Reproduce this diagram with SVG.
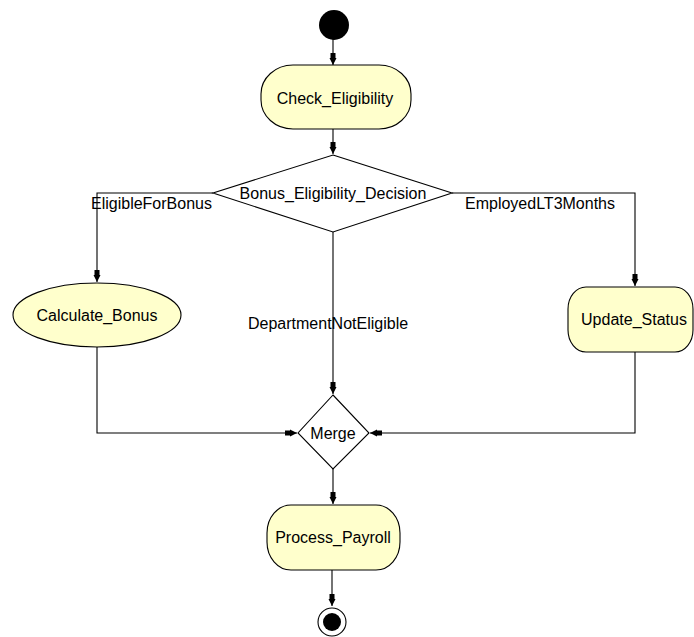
<svg xmlns="http://www.w3.org/2000/svg" width="694" height="637" viewBox="0 0 694 637">
<defs>
<marker id="arr" markerUnits="userSpaceOnUse" viewBox="0 0 12 8" refX="12" refY="4" markerWidth="12" markerHeight="8" orient="auto">
<path d="M0,1.5 L5,1.5 L5,0.5 L12,4 L5,7.5 L5,6.5 L0,6.5 Z" fill="#000"/>
</marker>
</defs>
<style>
.act{fill:#FFFFCC;stroke:#000;stroke-width:1.1}
.dec{fill:#fff;stroke:#000;stroke-width:1.1}
.lbl{font-family:"Liberation Sans",Arial,sans-serif;font-size:16px;fill:#000}
.c{text-anchor:middle}
.e{fill:none;stroke:#000;stroke-width:1.1}
</style>
<rect width="694" height="637" fill="#fff"/>
<g id="connectors">
<path class="e" d="M333,39 L333,65" marker-end="url(#arr)"/>
<path class="e" d="M333,129 L333,154" marker-end="url(#arr)"/>
<path class="e" d="M213,193 L97,193 L97,282" marker-end="url(#arr)"/>
<path class="e" d="M452,193 L635,193 L635,286" marker-end="url(#arr)"/>
<path class="e" d="M333,232 L333,394" marker-end="url(#arr)"/>
<path class="e" d="M97,347 L97,433 L297,433" marker-end="url(#arr)"/>
<path class="e" d="M635,352 L635,433 L370,433" marker-end="url(#arr)"/>
<path class="e" d="M333,469 L333,504" marker-end="url(#arr)"/>
<path class="e" d="M332,570 L332,606" marker-end="url(#arr)"/>
<text class="lbl" x="91" y="209">EligibleForBonus</text>
<text class="lbl" x="465" y="209">EmployedLT3Months</text>
<text class="lbl" x="248" y="329">DepartmentNotEligible</text>
</g>
<g id="start">
<circle cx="334" cy="25" r="15" fill="#000"/>
</g>
<g id="Check_Eligibility">
<rect class="act" x="261" y="65" width="150" height="64" rx="32" ry="29"/>
<text class="lbl c" x="335" y="104">Check_Eligibility</text>
</g>
<g id="Bonus_Eligibility_Decision">
<polygon class="dec" points="333,155 452,193 333,232 213,193"/>
<text class="lbl c" x="333" y="199">Bonus_Eligibility_Decision</text>
</g>
<g id="Calculate_Bonus">
<ellipse class="act" cx="97" cy="315" rx="84" ry="32"/>
<text class="lbl c" x="97" y="321">Calculate_Bonus</text>
</g>
<g id="Update_Status">
<rect class="act" x="568" y="287" width="125" height="65" rx="18" ry="22"/>
<text class="lbl c" x="634" y="325">Update_Status</text>
</g>
<g id="Merge">
<polygon class="dec" points="333,395 369,433 333,469 298,433"/>
<text class="lbl c" x="333" y="439">Merge</text>
</g>
<g id="Process_Payroll">
<rect class="act" x="267" y="505" width="133" height="65" rx="24" ry="28"/>
<text class="lbl c" x="333" y="543">Process_Payroll</text>
</g>
<g id="end">
<circle cx="332" cy="622" r="14" fill="#fff" stroke="#000" stroke-width="1.1"/>
<circle cx="332" cy="622" r="9" fill="#000"/>
</g>
</svg>
